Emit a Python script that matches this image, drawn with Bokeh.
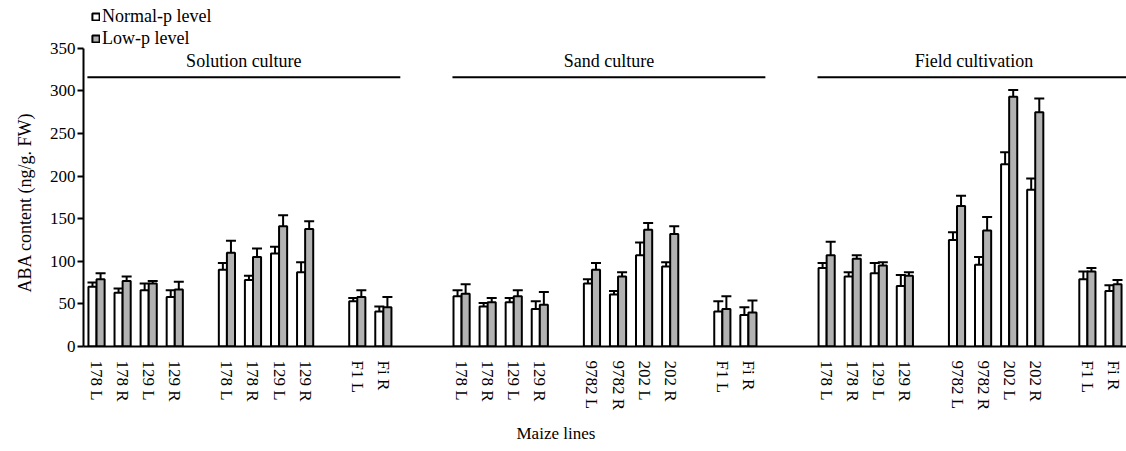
from bokeh.plotting import figure
from bokeh.models import (ColumnDataSource, FactorRange, Range1d, FixedTicker, Whisker,
                          TeeHead, Legend, LegendItem, Title)
from bokeh.transform import dodge
from bokeh.embed import file_html
from bokeh.resources import INLINE

# ---------------- data ----------------
cultures = ["Solution culture", "Sand culture", "Field cultivation"]
subgroups = ["a", "b", "c"]
lines_solution = [["178 L", "178 R", "129 L", "129 R"],
                  ["178 L", "178 R", "129 L", "129 R"],
                  ["F1 L", "Fi R"]]
lines_other = [["178 L", "178 R", "129 L", "129 R"],
               ["9782 L", "9782 R", "202 L", "202 R"],
               ["F1 L", "Fi R"]]

solution_normal = [70, 63, 66, 58, 90, 78, 109, 87, 53, 41]
solution_normal_err = [5, 5, 8, 8, 8, 5, 8, 12, 4, 6]
solution_low = [79, 77, 74, 67, 110, 105, 141, 138, 58, 46]
solution_low_err = [7, 5, 3, 9, 14, 10, 13, 9, 8, 12]

sand_normal = [59, 47, 52, 44, 74, 61, 107, 94, 41, 37]
sand_normal_err = [7, 4, 5, 9, 5, 4, 15, 5, 12, 9]
sand_low = [62, 52, 59, 49, 90, 82, 137, 132, 44, 40]
sand_low_err = [11, 5, 7, 15, 8, 5, 8, 9, 15, 14]

field_normal = [92, 82, 86, 71, 125, 96, 214, 184, 79, 65]
field_normal_err = [6, 5, 12, 13, 9, 9, 14, 13, 9, 7]
field_low = [107, 103, 95, 83, 165, 136, 293, 275, 88, 73]
field_low_err = [16, 4, 4, 4, 12, 16, 8, 16, 4, 5]

y_ticks = [0, 50, 100, 150, 200, 250, 300, 350]

# ---------------- build ----------------
FONT = "Liberation Serif"
layouts = [lines_solution, lines_other, lines_other]
normals = [solution_normal, sand_normal, field_normal]
normal_errs = [solution_normal_err, sand_normal_err, field_normal_err]
lows = [solution_low, sand_low, field_low]
low_errs = [solution_low_err, sand_low_err, field_low_err]

factors, nv, ne, lv, le = [], [], [], [], []
for c, lay, a, ae, b, be in zip(cultures, layouts, normals, normal_errs, lows, low_errs):
    k = 0
    for s, labs in zip(subgroups, lay):
        for lab in labs:
            factors.append((c, s, lab))
            nv.append(a[k]); ne.append(ae[k]); lv.append(b[k]); le.append(be[k])
            k += 1

src = ColumnDataSource(dict(
    x=factors, normal=nv, low=lv,
    normal_hi=[v + e for v, e in zip(nv, ne)],
    low_hi=[v + e for v, e in zip(lv, le)],
))

x_range = FactorRange(*factors, factor_padding=0, subgroup_padding=1.0,
                      group_padding=2.0, range_padding=0)

# frame runs to the top of the canvas so that the legend (inside the frame) is not clipped;
# the y axis itself is bounded to 0..350
p = figure(x_range=x_range, y_range=Range1d(0, 406), width=1126, height=451,
           output_backend="svg", toolbar_location=None,
           min_border_left=82, min_border_right=0, min_border_top=0,
           min_border_bottom=104)
p.outline_line_color = None
p.xgrid.grid_line_color = None
p.ygrid.grid_line_color = None
p.background_fill_color = "white"

W = 0.31
r1 = p.vbar(x=dodge("x", -W / 2, range=p.x_range), top="normal", width=W, source=src,
            fill_color="white", line_color="black", line_width=2)
r2 = p.vbar(x=dodge("x", W / 2, range=p.x_range), top="low", width=W, source=src,
            fill_color="#b2b2b2", line_color="black", line_width=2)

for off, lo, hi in [(-W / 2, "normal", "normal_hi"), (W / 2, "low", "low_hi")]:
    wk = Whisker(source=src, base=dodge("x", off, range=p.x_range), lower=lo, upper=hi,
                 lower_head=None, upper_head=TeeHead(size=10, line_width=2, line_color="black"),
                 line_width=2, line_color="black")
    p.add_layout(wk)

# culture group headers
seg_x0, seg_x1, txt_x = [], [], []
for c, lay in zip(cultures, layouts):
    seg_x0.append((c, "a", lay[0][0], -0.35))
    seg_x1.append((c, "c", lay[2][-1], 0.65))
    txt_x.append((c, "b", lay[1][0], 0.65))
hdr_y = [316] * 3
hdr_ty = [335] * 3
p.segment(x0=seg_x0, y0=hdr_y, x1=seg_x1, y1=hdr_y, line_color="black", line_width=2)
p.text(x=txt_x, y=hdr_ty, text=cultures, text_align="center", text_baseline="middle",
       text_font={"value": FONT}, text_font_size={"value": "18px"}, text_color="black")

# axes
yax = p.yaxis[0]
yax.ticker = FixedTicker(ticks=y_ticks)
yax.bounds = (0, 350)
yax.major_label_text_font = FONT
yax.major_label_text_font_size = "17px"
yax.major_label_text_color = "black"
yax.major_label_standoff = 2
yax.major_tick_out = 6
yax.major_tick_in = 0
yax.minor_tick_line_color = None
yax.axis_line_width = 2
yax.major_tick_line_width = 2

p.add_layout(Title(text="ABA content (ng/g. FW)", align="left", offset=54, standoff=24,
                   text_font=FONT, text_font_size="18px", text_font_style="normal",
                   text_color="black"), "left")

xax = p.xaxis[0]
xax.major_label_orientation = "vertical"
xax.major_label_text_font = FONT
xax.major_label_text_font_size = "17px"
xax.major_label_text_color = "black"
xax.major_label_standoff = 8
xax.major_tick_line_color = None
xax.minor_tick_line_color = None
xax.axis_line_width = 2
xax.group_text_font_size = "0px"
xax.subgroup_text_font_size = "0px"
xax.group_text_alpha = 0
xax.subgroup_text_alpha = 0
xax.separator_line_alpha = 0

p.add_layout(Title(text="Maize lines", align="left", offset=433, standoff=17,
                   text_font=FONT, text_font_size="17px", text_font_style="normal",
                   text_color="black"), "below")

legend = Legend(items=[LegendItem(label="Normal-p level", renderers=[r1]),
                       LegendItem(label="Low-p level", renderers=[r2])],
                location=(8, 297), orientation="vertical",
                glyph_width=9, glyph_height=9, label_standoff=2, spacing=1,
                padding=0, margin=0, label_height=20,
                border_line_color=None, background_fill_alpha=0,
                label_text_font=FONT, label_text_font_size="18px",
                label_text_color="black")
p.add_layout(legend)

open("out.html", "w").write(file_html(p, INLINE))
